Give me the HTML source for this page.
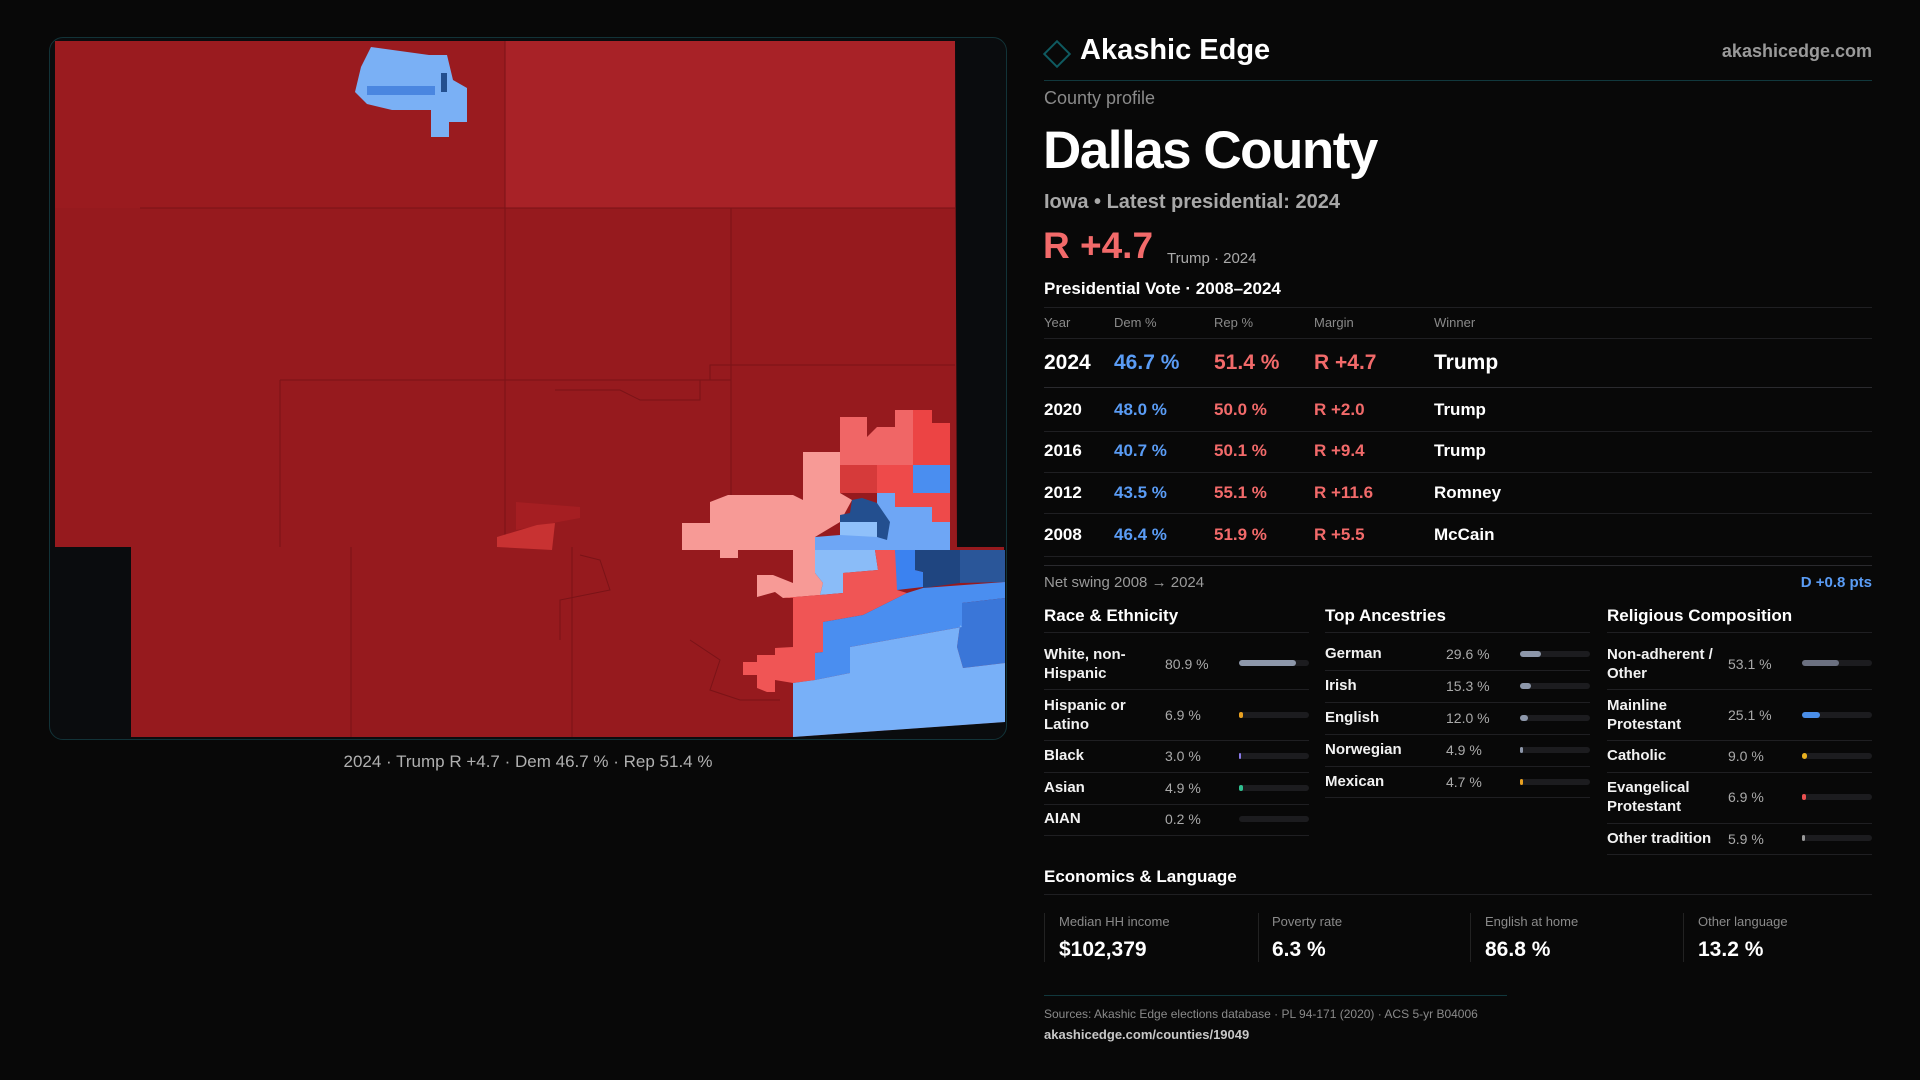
<!DOCTYPE html>
<html><head><meta charset="utf-8"><style>
*{margin:0;padding:0;box-sizing:border-box}
body{width:1920px;height:1080px;background:#080808;font-family:"Liberation Sans",sans-serif;color:#fff;position:relative;overflow:hidden}
.a{position:absolute;white-space:nowrap;line-height:1}
.g{color:#9a9a9a}
.b{font-weight:bold}
.ln{position:absolute;height:1px;background:#1f1f22}
.blue{color:#5a9cf5}.red{color:#f26a6a}
.trk{position:absolute;height:6px;border-radius:3px;background:#1c1c1f;width:70px}
.trk i{position:absolute;left:0;top:0;height:6px;border-radius:3px;display:block}
.lbl{position:absolute;font-size:15px;line-height:19px;font-weight:bold;color:#f2f2f2}
.val{position:absolute;font-size:14px;color:#aaa;line-height:1}
</style></head><body>
<div style="position:absolute;left:49px;top:37px;width:958px;height:703px;border:1px solid #123338;border-radius:14px;background:#0a0c0e;overflow:hidden"></div>
<svg style="position:absolute;left:0;top:0" width="1920" height="1080" viewBox="0 0 1920 1080">
<polygon points="55,41 955,41 957,547 1004,547 1004,722 793,737 131,737 131,547 55,547" fill="#961a1e"/>
<rect x="55" y="41" width="450" height="167" fill="#9a1b1f"/>
<rect x="505" y="41" width="450" height="167" fill="#a82227"/>
<g stroke="#7a1317" stroke-width="1" fill="none">
<line x1="505" y1="41" x2="505" y2="547"/><line x1="140" y1="208" x2="955" y2="208"/>
<line x1="731" y1="208" x2="731" y2="547"/><line x1="280" y1="380" x2="731" y2="380"/>
<line x1="280" y1="380" x2="280" y2="547"/><line x1="351" y1="547" x2="351" y2="737"/>
<line x1="572" y1="547" x2="572" y2="737"/><line x1="505" y1="380" x2="731" y2="380"/>
<polyline points="555,390 620,390 640,400 700,400 700,380 710,380 710,365 955,365"/>
<polyline points="580,555 600,560 610,590 560,600 560,640"/>
<polyline points="690,640 720,660 710,690 740,700 780,700"/>
</g>
<polygon points="516,502 580,507 580,518 553,523 516,530" fill="#a51e22"/>
<polygon points="497,537 537,525 555,523 552,550 497,547" fill="#c83232"/>
<polygon points="682,523 710,523 710,502 728,495 793,495 803,500 803,452 840,452 840,493 852,500 840,522 815,537 815,573 823,583 820,595 783,598 775,592 757,597 757,575 773,575 793,583 793,550 738,550 738,558 720,558 720,550 682,550" fill="#f79a96"/>
<polygon points="840,417 867,417 867,437 877,427 895,427 895,410 913,410 913,465 840,465" fill="#f06666"/>
<polygon points="913,410 932,410 932,423 950,423 950,465 913,465" fill="#ec4444"/>
<rect x="840" y="465" width="37" height="28" fill="#d63a3a"/>
<polygon points="877,465 913,465 913,507 895,507 895,493 877,493" fill="#ee4a4a"/>
<rect x="913" y="465" width="37" height="28" fill="#4a8ef0"/>
<polygon points="913,493 950,493 950,522 932,522 932,507 913,507" fill="#ee4a4a"/>
<polygon points="877,493 895,493 895,507 932,507 932,522 950,522 950,550 815,550 815,537 840,535 840,522 877,522" fill="#6ea6f5"/>
<polygon points="852,500 862,498 877,503 890,522 887,540 877,537 877,522 840,522 840,515 850,513" fill="#234f8f"/>
<polygon points="840,522 877,522 877,537 840,535" fill="#8fc0fa"/>
<polygon points="815,550 875,550 878,570 843,573 843,593 820,595 823,583 815,573" fill="#8abcf8"/>
<polygon points="875,550 895,550 897,562 897,590 907,593 863,615 823,622 823,652 815,653 815,680 793,683 775,680 775,692 767,692 757,688 757,675 743,675 743,662 757,662 757,655 775,655 775,648 793,647 793,598 783,598 820,595 843,593 843,573 878,570" fill="#f05555"/>
<polygon points="895,550 915,550 915,570 923,572 923,587 897,590" fill="#3b82f0"/>
<polygon points="915,550 960,550 960,583 923,588 923,572 915,570" fill="#1f4580"/>
<polygon points="960,550 1005,550 1005,582 960,583" fill="#2a5699"/>
<polygon points="907,593 923,588 1005,582 1005,598 962,603 962,627 850,647 850,673 815,680 815,653 823,652 823,622 863,615" fill="#4a8ef0"/>
<polygon points="962,603 1005,598 1005,663 963,668 957,647 960,625 962,627" fill="#3a76d8"/>
<polygon points="793,683 815,680 850,673 850,647 962,627 960,625 957,647 963,668 1005,663 1005,722 793,737" fill="#78b0f8"/>
<polygon points="371,47 429,55 447,55 453,80 467,88 467,122 449,122 449,137 431,137 431,110 392,110 367,104 355,92 361,67" fill="#7ab0f5"/>
<rect x="367" y="86" width="68" height="9" fill="#4a86e0"/>
<rect x="441" y="73" width="6" height="19" fill="#234f8f"/>
</svg>
<div class="a g" style="left:0;width:1056px;text-align:center;top:753px;font-size:17px;color:#b0b0b0">2024 · Trump R +4.7 · Dem 46.7 % · Rep 51.4 %</div>

<div style="position:absolute;left:1047px;top:44px;width:20px;height:20px;border:2px solid #0f5a60;transform:rotate(45deg)"></div>
<div class="a b" style="left:1080px;top:36px;font-size:29px">Akashic Edge</div>
<div class="a b" style="right:48px;top:42px;font-size:18px;color:#9a9a9a">akashicedge.com</div>
<div class="ln" style="left:1044px;width:828px;top:80px;background:#11383d"></div>
<div class="a g" style="left:1044px;top:89px;font-size:18px;color:#8a8a8a">County profile</div>
<div class="a b" style="left:1043px;top:124px;font-size:53px;letter-spacing:-1.5px">Dallas County</div>
<div class="a b" style="left:1044px;top:192px;font-size:20px;color:#a8a8a8">Iowa • Latest presidential: 2024</div>
<div class="a b red" style="left:1043px;top:227px;font-size:37px">R +4.7</div>
<div class="a" style="left:1167px;top:251px;font-size:15px;color:#aaa">Trump · 2024</div>
<div class="a b" style="left:1044px;top:280px;font-size:17px">Presidential Vote · 2008–2024</div>
<div class="ln" style="left:1044px;width:828px;top:307px"></div>
<div class="a" style="left:1044px;top:316px;font-size:13px;color:#8a8a8a">Year</div>
<div class="a" style="left:1114px;top:316px;font-size:13px;color:#8a8a8a">Dem %</div>
<div class="a" style="left:1214px;top:316px;font-size:13px;color:#8a8a8a">Rep %</div>
<div class="a" style="left:1314px;top:316px;font-size:13px;color:#8a8a8a">Margin</div>
<div class="a" style="left:1434px;top:316px;font-size:13px;color:#8a8a8a">Winner</div>
<div class="ln" style="left:1044px;width:828px;top:338px"></div>
<div class="a b" style="left:1044px;top:352px;font-size:21px">2024</div>
<div class="a b blue" style="left:1114px;top:352px;font-size:21px">46.7 %</div>
<div class="a b red" style="left:1214px;top:352px;font-size:21px">51.4 %</div>
<div class="a b red" style="left:1314px;top:352px;font-size:21px">R +4.7</div>
<div class="a b" style="left:1434px;top:352px;font-size:21px">Trump</div>
<div class="ln" style="left:1044px;width:828px;top:387px;background:#2a2a2e"></div>
<div class="a b" style="left:1044px;top:401px;font-size:17px">2020</div><div class="a b blue" style="left:1114px;top:401px;font-size:17px">48.0 %</div><div class="a b red" style="left:1214px;top:401px;font-size:17px">50.0 %</div><div class="a b red" style="left:1314px;top:401px;font-size:17px">R +2.0</div><div class="a b" style="left:1434px;top:401px;font-size:17px">Trump</div>
<div class="ln" style="left:1044px;width:828px;top:431px"></div>
<div class="a b" style="left:1044px;top:442px;font-size:17px">2016</div><div class="a b blue" style="left:1114px;top:442px;font-size:17px">40.7 %</div><div class="a b red" style="left:1214px;top:442px;font-size:17px">50.1 %</div><div class="a b red" style="left:1314px;top:442px;font-size:17px">R +9.4</div><div class="a b" style="left:1434px;top:442px;font-size:17px">Trump</div>
<div class="ln" style="left:1044px;width:828px;top:472px"></div>
<div class="a b" style="left:1044px;top:484px;font-size:17px">2012</div><div class="a b blue" style="left:1114px;top:484px;font-size:17px">43.5 %</div><div class="a b red" style="left:1214px;top:484px;font-size:17px">55.1 %</div><div class="a b red" style="left:1314px;top:484px;font-size:17px">R +11.6</div><div class="a b" style="left:1434px;top:484px;font-size:17px">Romney</div>
<div class="ln" style="left:1044px;width:828px;top:513px"></div>
<div class="a b" style="left:1044px;top:526px;font-size:17px">2008</div><div class="a b blue" style="left:1114px;top:526px;font-size:17px">46.4 %</div><div class="a b red" style="left:1214px;top:526px;font-size:17px">51.9 %</div><div class="a b red" style="left:1314px;top:526px;font-size:17px">R +5.5</div><div class="a b" style="left:1434px;top:526px;font-size:17px">McCain</div>
<div class="ln" style="left:1044px;width:828px;top:556px"></div>
<div class="ln" style="left:1044px;width:828px;top:565px;background:#2a2a2e"></div>
<div class="a" style="left:1044px;top:575px;font-size:15px;color:#9a9a9a">Net swing 2008 → 2024</div>
<div class="a b blue" style="right:48px;top:575px;font-size:15px">D +0.8 pts</div>

<div class="a b" style="left:1044px;top:607px;font-size:17px">Race &amp; Ethnicity</div>
<div class="a b" style="left:1325px;top:607px;font-size:17px">Top Ancestries</div>
<div class="a b" style="left:1607px;top:607px;font-size:17px">Religious Composition</div>
<div class="ln" style="left:1044px;width:265px;top:632px"></div>
<div class="ln" style="left:1325px;width:265px;top:632px"></div>
<div class="ln" style="left:1607px;width:265px;top:632px"></div>

<div class="lbl" style="left:1044px;top:645px">White, non-<br>Hispanic</div><div class="val" style="left:1165px;top:657px">80.9 %</div><div class="trk" style="left:1239px;top:660px"><i style="width:57px;background:#8d97aa"></i></div>
<div class="ln" style="left:1044px;width:265px;top:689px"></div>
<div class="lbl" style="left:1044px;top:696px">Hispanic or<br>Latino</div><div class="val" style="left:1165px;top:708px">6.9 %</div><div class="trk" style="left:1239px;top:712px"><i style="width:4px;background:#e8a020"></i></div>
<div class="ln" style="left:1044px;width:265px;top:740px"></div>
<div class="lbl" style="left:1044px;top:746px">Black</div><div class="val" style="left:1165px;top:749px">3.0 %</div><div class="trk" style="left:1239px;top:753px"><i style="width:2px;background:#8a7ae8"></i></div>
<div class="ln" style="left:1044px;width:265px;top:772px"></div>
<div class="lbl" style="left:1044px;top:778px">Asian</div><div class="val" style="left:1165px;top:781px">4.9 %</div><div class="trk" style="left:1239px;top:785px"><i style="width:4px;background:#30c090"></i></div>
<div class="ln" style="left:1044px;width:265px;top:804px"></div>
<div class="lbl" style="left:1044px;top:809px">AIAN</div><div class="val" style="left:1165px;top:812px">0.2 %</div><div class="trk" style="left:1239px;top:816px"></div>
<div class="ln" style="left:1044px;width:265px;top:835px"></div>

<div class="lbl" style="left:1325px;top:644px">German</div><div class="val" style="left:1446px;top:647px">29.6 %</div><div class="trk" style="left:1520px;top:651px"><i style="width:21px;background:#8d97aa"></i></div>
<div class="ln" style="left:1325px;width:265px;top:670px"></div>
<div class="lbl" style="left:1325px;top:676px">Irish</div><div class="val" style="left:1446px;top:679px">15.3 %</div><div class="trk" style="left:1520px;top:683px"><i style="width:11px;background:#8d97aa"></i></div>
<div class="ln" style="left:1325px;width:265px;top:702px"></div>
<div class="lbl" style="left:1325px;top:708px">English</div><div class="val" style="left:1446px;top:711px">12.0 %</div><div class="trk" style="left:1520px;top:715px"><i style="width:8px;background:#8d97aa"></i></div>
<div class="ln" style="left:1325px;width:265px;top:734px"></div>
<div class="lbl" style="left:1325px;top:740px">Norwegian</div><div class="val" style="left:1446px;top:743px">4.9 %</div><div class="trk" style="left:1520px;top:747px"><i style="width:3px;background:#8d97aa"></i></div>
<div class="ln" style="left:1325px;width:265px;top:766px"></div>
<div class="lbl" style="left:1325px;top:772px">Mexican</div><div class="val" style="left:1446px;top:775px">4.7 %</div><div class="trk" style="left:1520px;top:779px"><i style="width:3px;background:#e8a020"></i></div>
<div class="ln" style="left:1325px;width:265px;top:797px"></div>

<div class="lbl" style="left:1607px;top:645px">Non-adherent /<br>Other</div><div class="val" style="left:1728px;top:657px">53.1 %</div><div class="trk" style="left:1802px;top:660px"><i style="width:37px;background:#6b7080"></i></div>
<div class="ln" style="left:1607px;width:265px;top:689px"></div>
<div class="lbl" style="left:1607px;top:696px">Mainline<br>Protestant</div><div class="val" style="left:1728px;top:708px">25.1 %</div><div class="trk" style="left:1802px;top:712px"><i style="width:18px;background:#4a8ee8"></i></div>
<div class="ln" style="left:1607px;width:265px;top:740px"></div>
<div class="lbl" style="left:1607px;top:746px">Catholic</div><div class="val" style="left:1728px;top:749px">9.0 %</div><div class="trk" style="left:1802px;top:753px"><i style="width:5px;background:#e8b020"></i></div>
<div class="ln" style="left:1607px;width:265px;top:772px"></div>
<div class="lbl" style="left:1607px;top:778px">Evangelical<br>Protestant</div><div class="val" style="left:1728px;top:790px">6.9 %</div><div class="trk" style="left:1802px;top:794px"><i style="width:4px;background:#e85050"></i></div>
<div class="ln" style="left:1607px;width:265px;top:823px"></div>
<div class="lbl" style="left:1607px;top:829px">Other tradition</div><div class="val" style="left:1728px;top:832px">5.9 %</div><div class="trk" style="left:1802px;top:835px"><i style="width:3px;background:#999"></i></div>
<div class="ln" style="left:1607px;width:265px;top:854px"></div>

<div class="a b" style="left:1044px;top:868px;font-size:17px">Economics &amp; Language</div>
<div class="ln" style="left:1044px;width:828px;top:894px"></div>
<div style="position:absolute;left:1044px;top:913px;height:49px;border-left:1px solid #222"></div>
<div style="position:absolute;left:1258px;top:913px;height:49px;border-left:1px solid #222"></div>
<div style="position:absolute;left:1470px;top:913px;height:49px;border-left:1px solid #222"></div>
<div style="position:absolute;left:1683px;top:913px;height:49px;border-left:1px solid #222"></div>
<div class="a" style="left:1059px;top:915px;font-size:13px;color:#8a8a8a">Median HH income</div>
<div class="a" style="left:1272px;top:915px;font-size:13px;color:#8a8a8a">Poverty rate</div>
<div class="a" style="left:1485px;top:915px;font-size:13px;color:#8a8a8a">English at home</div>
<div class="a" style="left:1698px;top:915px;font-size:13px;color:#8a8a8a">Other language</div>
<div class="a b" style="left:1059px;top:939px;font-size:21px">$102,379</div>
<div class="a b" style="left:1272px;top:939px;font-size:21px">6.3 %</div>
<div class="a b" style="left:1485px;top:939px;font-size:21px">86.8 %</div>
<div class="a b" style="left:1698px;top:939px;font-size:21px">13.2 %</div>
<div class="ln" style="left:1044px;width:463px;top:995px;background:#11383d"></div>
<div class="a" style="left:1044px;top:1008px;font-size:12px;color:#8a8a8a">Sources: Akashic Edge elections database · PL 94-171 (2020) · ACS 5-yr B04006</div>
<div class="a b" style="left:1044px;top:1028px;font-size:13px;color:#c8c8c8">akashicedge.com/counties/19049</div>
</body></html>
